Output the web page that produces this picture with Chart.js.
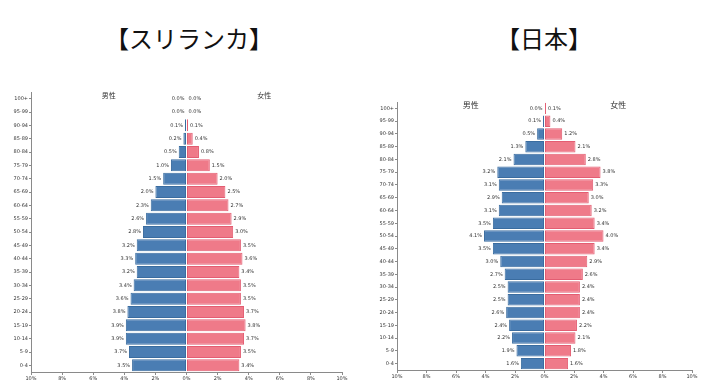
<!DOCTYPE html>
<html>
<head>
<meta charset="utf-8">
<script src="https://cdn.jsdelivr.net/npm/chart.js@4.4.0/dist/chart.umd.min.js"></script>
<style>
  body { margin: 0; background: #fff; width: 720px; height: 392px; position: relative; overflow: hidden; }
  .ttl { position: absolute; top: 23px; height: 30px; line-height: 30px; text-align: center;
         font-family: "Noto Sans CJK JP", sans-serif; font-size: 24px; color: #111; }
  .box { position: absolute; top: 0; width: 360px; height: 392px; }
</style>
</head>
<body>
<div class="ttl" style="left:0;width:378px;">【スリランカ】</div>
<div class="ttl" style="left:444px;width:200px;">【日本】</div>
<div class="box" style="left:0;"><canvas id="lkChart" width="360" height="392"></canvas></div>
<div class="box" style="left:360px;"><canvas id="jpChart" width="360" height="392"></canvas></div>
<script>
"use strict"

// age groups, top to bottom
const ages = ['100+', '95-99', '90-94', '85-89', '80-84', '75-79', '70-74', '65-69', '60-64', '55-59',
  '50-54', '45-49', '40-44', '35-39', '30-34', '25-29', '20-24', '15-19', '10-14', '5-9', '0-4'];

// Sri Lanka (%)
const lkMale   = [0.0, 0.0, 0.1, 0.2, 0.5, 1.0, 1.5, 2.0, 2.3, 2.6, 2.8, 3.2, 3.3, 3.2, 3.4, 3.6, 3.8, 3.9, 3.9, 3.7, 3.5];
const lkFemale = [0.0, 0.0, 0.1, 0.4, 0.8, 1.5, 2.0, 2.5, 2.7, 2.9, 3.0, 3.5, 3.6, 3.4, 3.5, 3.5, 3.7, 3.8, 3.7, 3.5, 3.4];

// Japan (%)
const jpMale   = [0.0, 0.1, 0.5, 1.3, 2.1, 3.2, 3.1, 2.9, 3.1, 3.5, 4.1, 3.5, 3.0, 2.7, 2.5, 2.5, 2.6, 2.4, 2.2, 1.9, 1.6];
const jpFemale = [0.1, 0.4, 1.2, 2.1, 2.8, 3.8, 3.3, 3.0, 3.2, 3.4, 4.0, 3.4, 2.9, 2.6, 2.4, 2.4, 2.4, 2.2, 2.1, 1.8, 1.6];

const xTicks = [-10, -8, -6, -4, -2, 0, 2, 4, 6, 8, 10];

const BLUE = '#4a7db3', BLUE_EDGE = '#3a6c9f';
const PINK = '#ef7a89', PINK_EDGE = '#e35d72';
const AXIS = '#8a8a8a';
const TXT = '#333';
const small = { family: 'DejaVu Sans', size: 5 };

// value labels at the end of each bar
const barLabels = {
  id: 'barLabels',
  afterDatasetsDraw(chart) {
    const ctx = chart.ctx;
    ctx.save();
    ctx.font = '5px "DejaVu Sans"';
    ctx.fillStyle = TXT;
    ctx.textBaseline = 'middle';
    chart.data.datasets.forEach((ds, i) => {
      const meta = chart.getDatasetMeta(i);
      meta.data.forEach((bar, j) => {
        const v = Math.abs(ds.data[j]).toFixed(1) + '%';
        if (ds.data[j] <= 0 && i === 0) {
          ctx.textAlign = 'right';
          ctx.fillText(v, bar.x - 2, bar.y);
        } else {
          ctx.textAlign = 'left';
          ctx.fillText(v, bar.x + 2, bar.y);
        }
      });
    });
    ctx.restore();
  }
};

// 男性 / 女性 headers
const sideHeads = {
  id: 'sideHeads',
  afterDraw(chart, args, opts) {
    const ctx = chart.ctx;
    const xs = chart.scales.x;
    const y = chart.chartArea.top + 3;
    ctx.save();
    ctx.font = opts.size + 'px "Noto Sans CJK JP"';
    ctx.fillStyle = TXT;
    ctx.textAlign = 'center';
    ctx.textBaseline = 'middle';
    ctx.fillText('男性', xs.getPixelForValue(-5), y);
    ctx.fillText('女性', xs.getPixelForValue(5), y);
    ctx.restore();
  }
};

const makePyramid = (id, male, female, box) => {
  const ctx = document.getElementById(id).getContext('2d');
  return new Chart(ctx, {
    type: 'bar',
    data: {
      labels: ages,
      datasets: [
        { label: '男性', data: male.map(v => -v), backgroundColor: BLUE, borderColor: BLUE_EDGE,
          borderWidth: 1, borderSkipped: false, barPercentage: 0.9, categoryPercentage: 1 },
        { label: '女性', data: female, backgroundColor: PINK, borderColor: PINK_EDGE,
          borderWidth: 1, borderSkipped: false, barPercentage: 0.9, categoryPercentage: 1 }
      ]
    },
    options: {
      indexAxis: 'y',
      responsive: false,
      animation: false,
      layout: { padding: { top: box.top, right: box.right, left: 0, bottom: 0 } },
      plugins: {
        legend: { display: false },
        tooltip: { enabled: false },
        sideHeads: { size: box.head }
      },
      scales: {
        x: {
          stacked: true,
          min: -10, max: 10,
          afterBuildTicks: (s) => { s.ticks = xTicks.map(v => ({ value: v })); },
          afterFit: (s) => { s.height = box.xh; },
          ticks: { font: small, color: TXT, padding: 1, maxRotation: 0,
                   callback: (v) => Math.abs(v) + '%' },
          grid: { drawOnChartArea: false, tickLength: 3, color: AXIS },
          border: { color: AXIS, width: 1 }
        },
        y: {
          stacked: true,
          afterFit: (s) => { s.width = box.yw; },
          ticks: { font: small, color: TXT, padding: 1, autoSkip: false },
          grid: { drawOnChartArea: false, tickLength: 2, color: AXIS, offset: false },
          border: { color: AXIS, width: 1 }
        }
      }
    },
    plugins: [barLabels, sideHeads]
  });
}

makePyramid('lkChart', lkMale, lkFemale, { top: 92, right: 18, xh: 20, yw: 31, head: 7 });
makePyramid('jpChart', jpMale, jpFemale, { top: 102, right: 28, xh: 22, yw: 37, head: 8 });
</script>
</body>
</html>
